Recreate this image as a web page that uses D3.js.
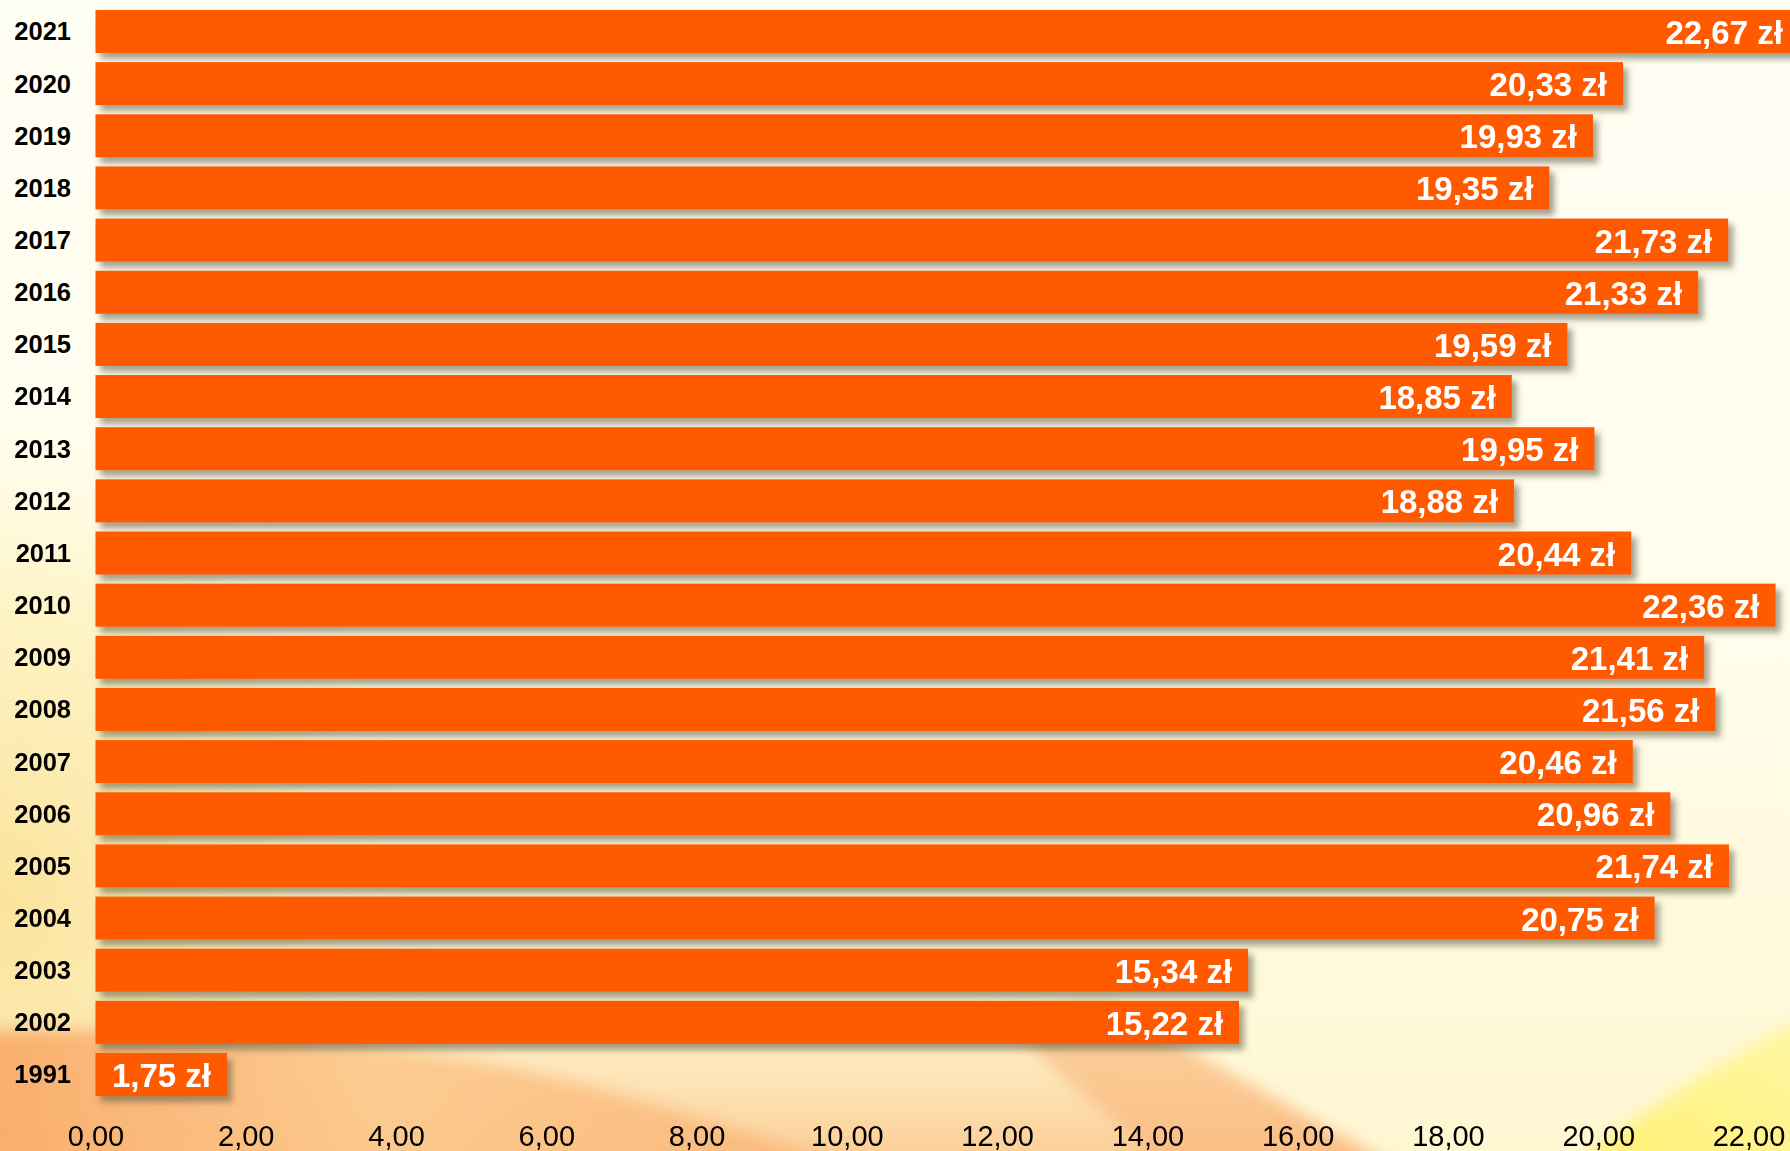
<!DOCTYPE html>
<html>
<head>
<meta charset="utf-8">
<script src="https://cdn.jsdelivr.net/npm/d3@7"></script>
<style>
  html, body { margin: 0; padding: 0; background: #fffdf0; }
  svg { display: block; }
</style>
</head>
<body>
<div id="chart"></div>
<script>
const years = ['2021', '2020', '2019', '2018', '2017', '2016', '2015', '2014', '2013', '2012', '2011',
  '2010', '2009', '2008', '2007', '2006', '2005', '2004', '2003', '2002', '1991']
const prices = [22.67, 20.33, 19.93, 19.35, 21.73, 21.33, 19.59, 18.85, 19.95, 18.88, 20.44,
  22.36, 21.41, 21.56, 20.46, 20.96, 21.74, 20.75, 15.34, 15.22, 1.75]
const xTicks = [0, 2, 4, 6, 8, 10, 12, 14, 16, 18, 20, 22]

const width = 1790
const height = 1151

const fmt = (v) => v.toFixed(2).replace('.', ',')

const svg = d3.select('#chart')
  .append('svg')
  .attr('width', width)
  .attr('height', height)

const defs = svg.append('defs')

// background gradients
const base = defs.append('linearGradient').attr('id', 'bg-base')
  .attr('x1', 0).attr('y1', 0).attr('x2', 0).attr('y2', 1)
base.append('stop').attr('offset', '0%').attr('stop-color', '#fffef3')
base.append('stop').attr('offset', '55%').attr('stop-color', '#fffdec')
base.append('stop').attr('offset', '100%').attr('stop-color', '#fff7d2')

const glow = defs.append('radialGradient').attr('id', 'bg-left')
glow.append('stop').attr('offset', '0%').attr('stop-color', '#fbe29a').attr('stop-opacity', 1)
glow.append('stop').attr('offset', '60%').attr('stop-color', '#fdeeb4').attr('stop-opacity', 0.7)
glow.append('stop').attr('offset', '100%').attr('stop-color', '#fff6cc').attr('stop-opacity', 0)

const dune = defs.append('linearGradient').attr('id', 'bg-dune')
  .attr('x1', 0).attr('y1', 0).attr('x2', 1).attr('y2', 0)
dune.append('stop').attr('offset', '0%').attr('stop-color', '#f8a866')
dune.append('stop').attr('offset', '45%').attr('stop-color', '#fcc88c')
dune.append('stop').attr('offset', '100%').attr('stop-color', '#f9b477')

const peach = defs.append('linearGradient').attr('id', 'bg-peach')
  .attr('x1', 0).attr('y1', 0).attr('x2', 0).attr('y2', 1)
peach.append('stop').attr('offset', '0%').attr('stop-color', '#fde6b0').attr('stop-opacity', 0)
peach.append('stop').attr('offset', '100%').attr('stop-color', '#fbc48a').attr('stop-opacity', 1)

const sunny = defs.append('linearGradient').attr('id', 'bg-yellow')
  .attr('x1', 0).attr('y1', 1).attr('x2', 1).attr('y2', 0)
sunny.append('stop').attr('offset', '0%').attr('stop-color', '#fff06e')
sunny.append('stop').attr('offset', '100%').attr('stop-color', '#fff6a8')

const soft = defs.append('filter').attr('id', 'bg-soft')
  .attr('x', '-10%').attr('y', '-10%').attr('width', '120%').attr('height', '120%')
soft.append('feGaussianBlur').attr('stdDeviation', 8)

const shadow = defs.append('filter').attr('id', 'bar-shadow')
  .attr('x', '-5%').attr('y', '-30%').attr('width', '115%').attr('height', '180%')
shadow.append('feDropShadow')
  .attr('dx', 5).attr('dy', 6).attr('stdDeviation', 3)
  .attr('flood-color', '#5a5a40').attr('flood-opacity', 0.55)

const bg = svg.append('g').attr('class', 'background')
bg.append('rect').attr('width', width).attr('height', height).attr('fill', 'url(#bg-base)')

const shapes = bg.append('g').attr('filter', 'url(#bg-soft)')
shapes.append('ellipse')
  .attr('cx', 0).attr('cy', 900).attr('rx', 420).attr('ry', 480)
  .attr('fill', 'url(#bg-left)')
shapes.append('path')
  .attr('d', 'M-30,960 L700,960 L1100,1000 L1420,1180 L-30,1180 Z')
  .attr('fill', 'url(#bg-peach)')
shapes.append('path')
  .attr('d', 'M-30,1030 Q300,1025 520,1070 Q700,1110 880,1180 L-30,1180 Z')
  .attr('fill', 'url(#bg-dune)')
  .attr('opacity', 0.9)
shapes.append('path')
  .attr('d', 'M1000,1020 L1100,1000 L1420,1180 L1180,1180 Z')
  .attr('fill', '#f9b479')
  .attr('opacity', 0.6)
shapes.append('path')
  .attr('d', 'M1555,1180 Q1680,1080 1820,1010 L1820,1180 Z')
  .attr('fill', 'url(#bg-yellow)')

// scales
const x = d3.scaleLinear().domain([0, 22]).range([95.5, 1748.5])
const y = d3.scaleBand()
  .domain(years)
  .range([5.4, 1100.6])
  .paddingInner(0.175)
  .paddingOuter(0.0875)

const rows = years.map((year, i) => ({ year, value: prices[i] }))

svg.append('g')
  .attr('class', 'bars')
  .selectAll('rect')
  .data(rows)
  .join('rect')
  .attr('x', x(0))
  .attr('y', (d) => y(d.year))
  .attr('width', (d) => x(d.value) - x(0))
  .attr('height', y.bandwidth())
  .attr('fill', '#ff5a00')
  .attr('filter', 'url(#bar-shadow)')

svg.append('g')
  .attr('class', 'values')
  .selectAll('text')
  .data(rows)
  .join('text')
  .attr('x', (d) => x(d.value) - 16)
  .attr('y', (d) => y(d.year) + y.bandwidth() / 2)
  .attr('dy', '0.38em')
  .attr('text-anchor', 'end')
  .attr('fill', '#ffffff')
  .style('font-family', '"Liberation Sans", Arial, sans-serif')
  .style('font-weight', 'bold')
  .style('font-size', '33px')
  .text((d) => `${fmt(d.value)} zł`)

// year labels
const axisY = d3.axisLeft(y).tickSize(0).tickPadding(0)
svg.append('g')
  .attr('class', 'axis y')
  .attr('transform', 'translate(71, 0)')
  .call(axisY)
  .call((g) => g.select('.domain').remove())
  .call((g) => g.selectAll('text')
    .attr('dy', '0.35em')
    .attr('fill', '#000')
    .style('font-family', '"Liberation Sans", Arial, sans-serif')
    .style('font-weight', 'bold')
    .style('font-size', '25.5px'))

// value axis
const axisX = d3.axisBottom(x).tickValues(xTicks).tickFormat(fmt).tickSize(0).tickPadding(0)
svg.append('g')
  .attr('class', 'axis x')
  .attr('transform', 'translate(0, 1125)')
  .call(axisX)
  .call((g) => g.select('.domain').remove())
  .call((g) => g.selectAll('text')
    .attr('dy', '0.72em')
    .attr('fill', '#000')
    .style('font-family', '"Liberation Sans", Arial, sans-serif')
    .style('font-size', '29px'))
</script>
</body>
</html>
